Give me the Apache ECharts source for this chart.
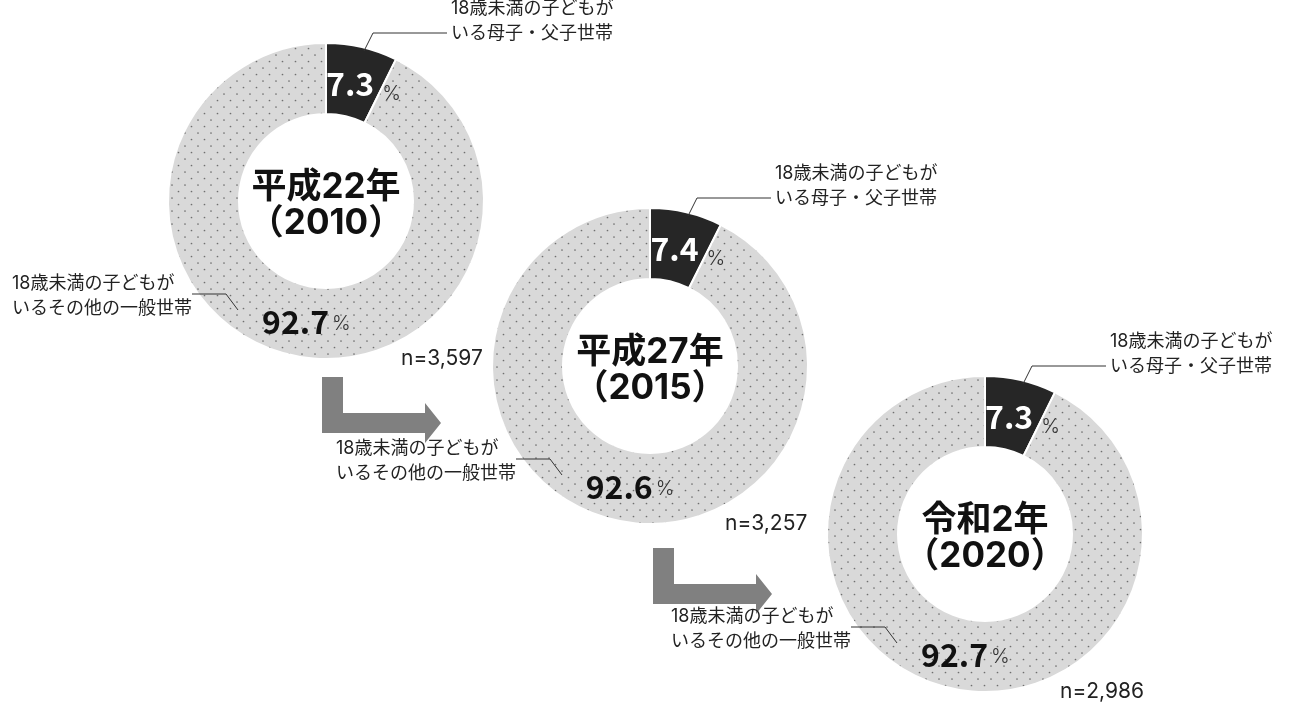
<!DOCTYPE html>
<html>
<head>
<meta charset="utf-8">
<script src="https://cdn.jsdelivr.net/npm/echarts@6/dist/echarts.min.js"></script>
<style>
html,body{margin:0;padding:0;background:#fff;}
#chart{width:1297px;height:706px;}
</style>
</head>
<body>
<div id="chart"></div>
<script>
// ---- data ----
const yearLabels = ['平成22年', '平成27年', '令和2年'];
const yearNumbers = ['2010', '2015', '2020'];
const singleParentShare = [7.3, 7.4, 7.3];
const otherGeneralShare = [92.7, 92.6, 92.7];
const sampleSizes = ['3,597', '3,257', '2,986'];
const categoryNames = ['18歳未満の子どもが\nいる母子・父子世帯', '18歳未満の子どもが\nいるその他の一般世帯'];

// ---- layout ----
const centers = [[326, 201], [650, 366], [985, 534]];
const radius = [87, 158];
const arrowOrigins = [[322, 377], [653, 548]];
const FONT = 'Inter, "Noto Sans CJK JP", "Noto Sans", sans-serif';
const CJK = '"Noto Sans CJK JP", "Noto Sans", sans-serif';

// dotted pattern for the large slice
const pc = document.createElement('canvas');
pc.width = 13; pc.height = 13;
const g = pc.getContext('2d');
g.fillStyle = '#d9d9d9';
g.fillRect(0, 0, 13, 13);
g.fillStyle = '#6f6f6f';
[[3, 3], [9.5, 9.5]].forEach(function (d) {
  g.beginPath(); g.arc(d[0], d[1], 0.85, 0, Math.PI * 2); g.fill();
});
const dotPattern = { image: pc, repeat: 'repeat' };

const chart = echarts.init(document.getElementById('chart'), null, { renderer: 'canvas' });

const series = centers.map(function (c, i) {
  return {
    type: 'pie',
    center: c,
    radius: radius,
    startAngle: 90,
    clockwise: true,
    silent: true,
    animation: false,
    itemStyle: { borderColor: '#fff', borderWidth: 2 },
    labelLine: { show: false },
    label: {
      show: true,
      position: 'inside',
      fontFamily: CJK,
      formatter: function (p) { return '{v|' + p.value.toFixed(1) + '}{p|%}'; }
    },
    labelLayout: function (params) {
      return params.dataIndex === 0 ? { dx: 9, dy: 5 } : { dx: 9, dy: -1 };
    },
    data: [
      {
        value: singleParentShare[i], name: categoryNames[0],
        itemStyle: { color: '#262626' },
        label: {
          rich: {
            v: { fontFamily: CJK, fontSize: 32, fontWeight: 'bold', color: '#ffffff' },
            p: { fontFamily: FONT, fontSize: 20, fontWeight: 300, color: '#333', padding: [20, 0, 0, 8] }
          }
        }
      },
      {
        value: otherGeneralShare[i], name: categoryNames[1],
        itemStyle: { color: dotPattern },
        label: {
          rich: {
            v: { fontFamily: CJK, fontSize: 32, fontWeight: 'bold', color: '#111' },
            p: { fontFamily: FONT, fontSize: 20, fontWeight: 300, color: '#333', padding: [4, 0, 0, 3] }
          }
        }
      }
    ]
  };
});

const graphics = [];
centers.forEach(function (c, i) {
  const cx = c[0], cy = c[1];
  // center title
  graphics.push({
    type: 'text', x: cx, y: cy + 4, z: 10,
    style: {
      text: yearLabels[i] + '\n（' + yearNumbers[i] + '）',
      fontFamily: FONT, fontSize: 35, fontWeight: 'bold', fill: '#111',
      align: 'center', verticalAlign: 'middle', lineHeight: 36
    }
  });
  // top annotation
  graphics.push({
    type: 'text', x: cx + 125, y: cy - 180, z: 10,
    style: {
      text: categoryNames[0], fontFamily: FONT, fontSize: 18, fill: '#222',
      align: 'left', verticalAlign: 'middle', lineHeight: 25
    }
  });
  graphics.push({
    type: 'polyline', z: 10,
    shape: { points: [[cx + 121, cy - 168], [cx + 47, cy - 168], [cx + 38, cy - 150]] },
    style: { stroke: '#333', lineWidth: 1, fill: null }
  });
  // bottom annotation
  graphics.push({
    type: 'text', x: cx - 314, y: cy + 95, z: 10,
    style: {
      text: categoryNames[1], fontFamily: FONT, fontSize: 18, fill: '#222',
      align: 'left', verticalAlign: 'middle', lineHeight: 25
    }
  });
  graphics.push({
    type: 'polyline', z: 10,
    shape: { points: [[cx - 134, cy + 93], [cx - 100, cy + 93], [cx - 88, cy + 109]] },
    style: { stroke: '#333', lineWidth: 1, fill: null }
  });
  // sample size
  graphics.push({
    type: 'text', x: cx + 75, y: cy + 158, z: 10,
    style: {
      text: 'n=' + sampleSizes[i], fontFamily: FONT, fontSize: 21, fill: '#222',
      align: 'left', verticalAlign: 'middle'
    }
  });
});
arrowOrigins.forEach(function (o) {
  graphics.push({
    type: 'polygon', x: o[0], y: o[1], z: 5,
    shape: { points: [[0, 0], [21, 0], [21, 36], [103, 36], [103, 26], [119, 46], [103, 66], [103, 56], [0, 56]] },
    style: { fill: '#808080' }
  });
});

chart.setOption({
  backgroundColor: '#ffffff',
  animation: false,
  series: series,
  graphic: graphics
});
</script>
</body>
</html>
